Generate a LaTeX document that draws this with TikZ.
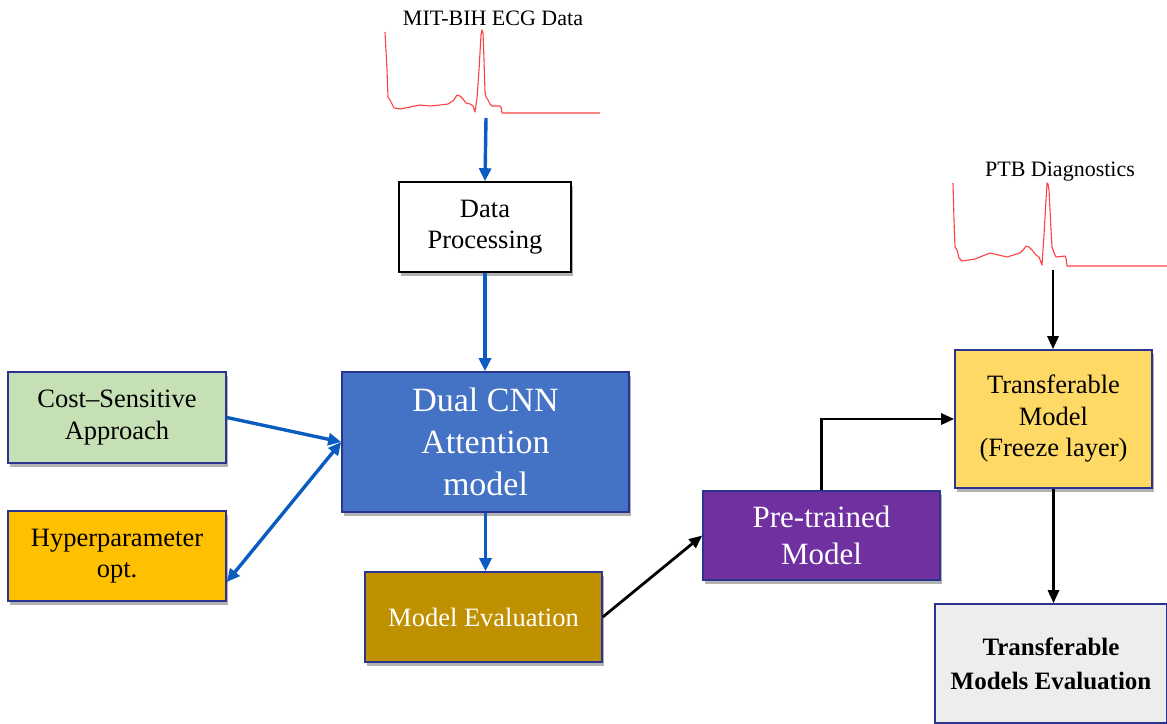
\documentclass[tikz,border=0pt]{standalone}
\usepackage{fontspec}
\setmainfont{Liberation Serif}
\usetikzlibrary{arrows.meta,shadows}

\definecolor{flowblue}{HTML}{0B5CC0}
\definecolor{navyline}{HTML}{2B3590}
\definecolor{dualfill}{HTML}{4472C4}
\definecolor{evalfill}{HTML}{BF9000}
\definecolor{costfill}{HTML}{C5E0B4}
\definecolor{hyperfill}{HTML}{FFC000}
\definecolor{prefill}{HTML}{7030A0}
\definecolor{tmfill}{HTML}{FFD966}
\definecolor{tmefill}{HTML}{EDEDED}
\definecolor{ecgred}{HTML}{FF4040}

\tikzset{
  box/.style={draw=navyline, line width=1.6pt, inner sep=0pt, align=center,
    drop shadow={shadow xshift=2pt, shadow yshift=-4pt, opacity=0.3, fill=black}},
  bluearrow/.style={draw=flowblue, line width=3.4pt,
    -{Triangle[length=13pt,width=12pt]}},
  blackarrow/.style={draw=black, line width=2.8pt,
    -{Triangle[length=13pt,width=11pt]}},
  ecg/.style={draw=ecgred, line width=1.1pt, line join=round},
  txt/.style={font=\fontsize{26.5}{31.5}\selectfont},
  srclabel/.style={font=\fontsize{22}{26}\selectfont}
}

\begin{document}
\begin{tikzpicture}[x=1pt,y=-1pt]
\useasboundingbox (0,0) rectangle (1167,723);

% ECG traces and their titles
\node[srclabel] (lab1) at (493,18) {MIT-BIH ECG Data};
\draw[ecg] (385,32) -- (387,70) -- (388,97) -- (390,100) -- (392,104) -- (394,108)
  -- (400,109) -- (410,107) -- (420,105) -- (430,106) -- (440,105) -- (448,104)
  -- (453,101) -- (457,95) -- (460,96) -- (463,99) -- (466,103) -- (470,104)
  -- (473,106) -- (475,112) -- (477,98) -- (479,70) -- (481,35) -- (482,30)
  -- (483,33) -- (484,60) -- (485,92) -- (486,97) -- (488,100) -- (490,104)
  -- (492,106) -- (500,106) -- (501,107) -- (502,113) -- (600,113);
\coordinate (ecg1out) at (486,118);

\node[srclabel] (lab2) at (1060,172) {PTB Diagnostics};
\draw[ecg] (953,183) -- (954,220) -- (955,247) -- (957,250) -- (959,258) -- (962,261)
  -- (975,259) -- (990,253) -- (1007,257) -- (1020,253) -- (1024,249) -- (1026,246)
  -- (1029,247) -- (1032,250) -- (1036,255) -- (1039,257) -- (1042,265) -- (1044,235)
  -- (1046,200) -- (1047,183) -- (1048,184) -- (1049,190) -- (1051,230) -- (1052,247)
  -- (1054,253) -- (1056,257) -- (1065,256) -- (1066,258) -- (1067,266) -- (1167,266);
\coordinate (ecg2out) at (1053,270);

% Process boxes
\node[box, draw=black, fill=white, minimum width=172pt, minimum height=90pt, txt]
  (dp) at (485,227) {Data\\Processing};
\node[box, fill=dualfill, minimum width=287pt, minimum height=140pt, text=white,
  font=\fontsize{34}{42}\selectfont] (dual) at (485.5,442) {Dual CNN\\Attention\\model};
\node[box, fill=evalfill, minimum width=237pt, minimum height=90pt, text=white, txt]
  (meval) at (483.5,617) {Model Evaluation};
\node[box, fill=costfill, minimum width=218pt, minimum height=91pt, txt]
  (cost) at (117,417.5) {Cost–Sensitive\\Approach};
\node[box, fill=hyperfill, minimum width=218pt, minimum height=90pt, txt]
  (hyper) at (117,556) {Hyperparameter\\opt.};
\node[box, fill=prefill, minimum width=237pt, minimum height=89pt, text=white,
  font=\fontsize{31}{37}\selectfont] (pre) at (821.5,535.5) {Pre-trained\\Model};
\node[box, fill=tmfill, minimum width=197pt, minimum height=138pt, txt]
  (tm) at (1053.5,419) {Transferable\\Model\\(Freeze layer)};
\node[box, fill=tmefill, minimum width=232pt, minimum height=119pt,
  font=\fontsize{25}{34}\selectfont\bfseries] (tme) at (1051,663.5)
  {Transferable\\Models Evaluation};

% Connectors
\draw[bluearrow] (ecg1out) -- (dp.north);
\draw[bluearrow] (dp.south) -- (dp.south |- dual.north);
\draw[bluearrow] (cost.east) -- (dual.west);
\draw[draw=flowblue, line width=3.4pt,
  {Triangle[length=13pt,width=12pt]}-{Triangle[length=13pt,width=12pt]}]
  (dual.west) -- ([yshift=-26pt]hyper.east);
\draw[bluearrow] (dual.south) -- (dual.south |- meval.north);
\draw[blackarrow] (meval.east) -- (pre.west);
\draw[blackarrow] (pre.north) |- (tm.west);
\draw[blackarrow] (ecg2out) -- (ecg2out |- tm.north);
\draw[blackarrow] (tm.south) -- (tm.south |- tme.north);
\end{tikzpicture}
\end{document}
